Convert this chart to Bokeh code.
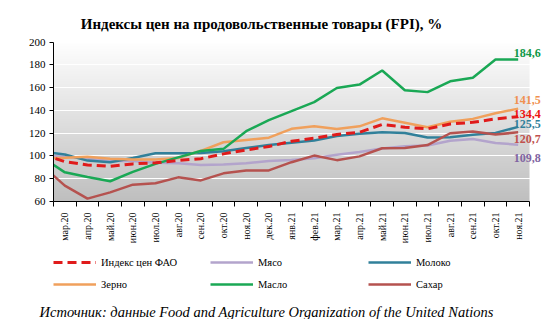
import numpy as np
from bokeh.plotting import figure
from bokeh.layouts import column
from bokeh.models import (Range1d, FixedTicker, Legend, LegendItem, Label,
                          LabelSet, ColumnDataSource, Title)
from bokeh.embed import file_html
from bokeh.resources import INLINE

# ---------------- data ----------------
months = ["фев.20", "мар.20", "апр.20", "май.20", "июн.20", "июл.20", "авг.20",
          "сен.20", "окт.20", "ноя.20", "дек.20", "янв.21", "фев.21", "мар.21",
          "апр.21", "май.21", "июн.21", "июл.21", "авг.21", "сен.21", "окт.21",
          "ноя.21"]
fao = [101.5, 95.0, 92.1, 90.9, 93.0, 94.0, 96.0, 97.6, 101.8, 105.3, 108.2,
       112.9, 115.5, 118.8, 120.8, 127.6, 125.2, 123.8, 128.0, 129.5, 132.5, 134.4]
meat = [100.0, 99.5, 97.5, 95.5, 95.5, 94.0, 93.5, 92.0, 92.4, 93.5, 95.5,
        96.5, 98.0, 101.0, 103.5, 106.5, 108.5, 109.1, 113.4, 114.9, 111.4, 109.8]
dairy = [104.0, 101.2, 95.9, 94.4, 98.2, 102.3, 102.3, 102.5, 104.1, 107.0, 109.5,
         111.5, 113.5, 117.5, 119.4, 120.8, 120.2, 116.1, 116.4, 118.5, 120.2, 125.5]
cereals = [98.0, 98.5, 99.3, 97.6, 96.9, 96.9, 98.1, 104.5, 112.0, 114.0, 116.0,
           123.8, 126.0, 123.6, 126.0, 133.0, 129.2, 125.1, 130.0, 132.5, 137.5, 141.5]
oils = [98.6, 85.6, 81.5, 77.8, 86.0, 93.0, 98.7, 104.3, 106.2, 121.7, 131.5,
        139.3, 147.2, 159.6, 162.6, 175.0, 157.6, 156.0, 165.5, 168.7, 184.6, 184.6]
sugar = [91.5, 73.9, 62.5, 68.0, 74.8, 76.0, 81.2, 78.5, 84.7, 87.3, 87.3,
         94.5, 100.3, 96.3, 99.6, 106.7, 107.0, 109.5, 119.9, 121.5, 118.8, 120.7]
y_ticks = [60, 80, 100, 120, 140, 160, 180, 200]

names = ["Индекс цен ФАО", "Мясо", "Молоко", "Зерно", "Масло", "Сахар"]
values = [fao, meat, dairy, cereals, oils, sugar]
line_colors = ["#e01b1b", "#b3a4cc", "#31809a", "#f0a05c", "#1aa855", "#b5524f"]
label_colors = ["#ee1111", "#8064a2", "#31809a", "#f09050", "#109848", "#c0504d"]
# vertical positions of the end-value labels (data units)
label_y = [136.7, 98.4, 127.7, 149.4, 190.7, 114.5]

FONT = "Liberation Serif"
TITLE = "Индексы цен на продовольственные товары (FPI), %"
SOURCE = "Источник: данные Food and Agriculture Organization of the United Nations"

x = np.arange(len(months))


def line_style(i):
    if i == 0:
        return dict(line_color=line_colors[i], line_width=3, line_dash="9 5")
    return dict(line_color=line_colors[i], line_width=2.5)


# ---------------- main chart ----------------
W = 558
H1, H2 = 247, 72
LEFT, RIGHT, BOTTOM = 53, 2, 46
PX_X = 476 / (len(months) - 1)             # pixels per category
PX_Y = 159.5 / (y_ticks[-1] - y_ticks[0])  # pixels per index point
frame_w = W - LEFT - RIGHT
frame_h = H1 - BOTTOM
x_end = 0.5 + frame_w / PX_X
y_end = y_ticks[0] + frame_h / PX_Y

p = figure(width=W, height=H1, output_backend="svg", toolbar_location=None,
           x_range=Range1d(0.5, x_end), y_range=Range1d(y_ticks[0], y_end),
           min_border_left=LEFT, min_border_right=RIGHT, min_border_top=0,
           min_border_bottom=BOTTOM)
p.outline_line_color = None
p.border_fill_color = "white"
p.background_fill_color = "white"

# gradient background of plot area
n = 160
shade = np.linspace(0xBF, 0xFF, n).astype(np.uint8)
img = np.empty((n, 1), dtype=np.uint32)
view = img.view(dtype=np.uint8).reshape((n, 1, 4))
view[:, 0, 0] = shade
view[:, 0, 1] = shade
view[:, 0, 2] = shade
view[:, 0, 3] = 255
p.image_rgba(image=[img], x=0.5, y=y_ticks[0], dw=len(months) - 1,
             dh=y_ticks[-1] - y_ticks[0], level="image")

# grid
p.xgrid.grid_line_color = None
p.ygrid.ticker = FixedTicker(ticks=y_ticks)
p.ygrid.grid_line_color = "white"
p.ygrid.grid_line_width = 1.2

# y axis
p.yaxis.ticker = FixedTicker(ticks=y_ticks)
p.yaxis.bounds = (y_ticks[0], y_ticks[-1])
p.yaxis.axis_line_color = "black"
p.yaxis.major_tick_line_color = "black"
p.yaxis.major_tick_out = 4
p.yaxis.major_tick_in = 0
p.yaxis.minor_tick_line_color = None
p.yaxis.major_label_standoff = 4
p.yaxis.major_label_text_font = FONT
p.yaxis.major_label_text_font_size = "11px"
p.yaxis.major_label_text_color = "black"

# x axis
p.xaxis.ticker = FixedTicker(ticks=list(range(1, len(months))),
                             minor_ticks=[i + 0.5 for i in range(len(months))])
p.xaxis.bounds = (0.5, len(months) - 0.5)
p.xaxis.major_label_overrides = {i: months[i] for i in range(1, len(months))}
p.xaxis.major_label_orientation = np.pi / 2
p.xaxis.axis_line_color = "black"
p.xaxis.major_tick_line_color = None
p.xaxis.major_tick_out = 0
p.xaxis.major_tick_in = 0
p.xaxis.minor_tick_line_color = "black"
p.xaxis.minor_tick_out = 5
p.xaxis.minor_tick_in = 0
p.xaxis.major_label_standoff = 6
p.xaxis.major_label_text_font = FONT
p.xaxis.major_label_text_font_size = "10px"
p.xaxis.major_label_text_color = "black"

# lines
for i in [1, 2, 3, 4, 5, 0]:
    p.line(x, values[i], **line_style(i))

# end-value labels
last_idx = len(months) - 1
lab_src = ColumnDataSource(dict(
    x=[last_idx] * len(values),
    y=label_y,
    text=[f"{v[-1]:.1f}".replace(".", ",") for v in values],
    color=label_colors,
))
p.add_layout(LabelSet(x="x", y="y", text="text", source=lab_src,
                      x_offset=-4.5, text_color="color", text_font=FONT,
                      text_font_style="bold", text_font_size="12px",
                      text_baseline="middle", text_align="left"))

# title (inside the extended frame, above the plot area)
p.add_layout(Label(x=208, y=frame_h - 23.5, x_units="screen", y_units="screen",
                   text=TITLE, text_align="center", text_baseline="middle",
                   text_font=FONT, text_font_style="bold",
                   text_font_size="15px", text_color="black"))

# ---------------- legend + source strip ----------------
q = figure(width=W, height=H2, output_backend="svg", toolbar_location=None,
           x_range=Range1d(-100, -99), y_range=Range1d(-100, -99),
           min_border=0, x_axis_type=None, y_axis_type=None)
q.outline_line_color = None
q.grid.grid_line_color = None
q.border_fill_color = "white"
q.background_fill_color = "white"

legend_renderers = {}
for i in range(len(names)):
    legend_renderers[i] = q.line(x, values[i], **line_style(i))

cols = [[0, 3], [1, 4], [2, 5]]
col_x = [0, 157, 315]
for cx, idxs in zip(col_x, cols):
    leg = Legend(items=[LegendItem(label=names[i], renderers=[legend_renderers[i]])
                        for i in idxs],
                 location=(cx, 6), orientation="vertical", padding=0, margin=0,
                 spacing=0, glyph_width=43, glyph_height=22, label_height=22,
                 label_standoff=5, label_text_font=FONT,
                 label_text_font_size="10.5px", label_text_color="black",
                 border_line_color=None, background_fill_alpha=0)
    q.add_layout(leg)

q.add_layout(Title(text=SOURCE, align="left", offset=-14, standoff=0,
                   text_font=FONT, text_font_style="italic",
                   text_font_size="14.5px", text_color="black"), "below")

layout = column(p, q, spacing=0)
open("out.html", "w").write(file_html(layout, INLINE))
